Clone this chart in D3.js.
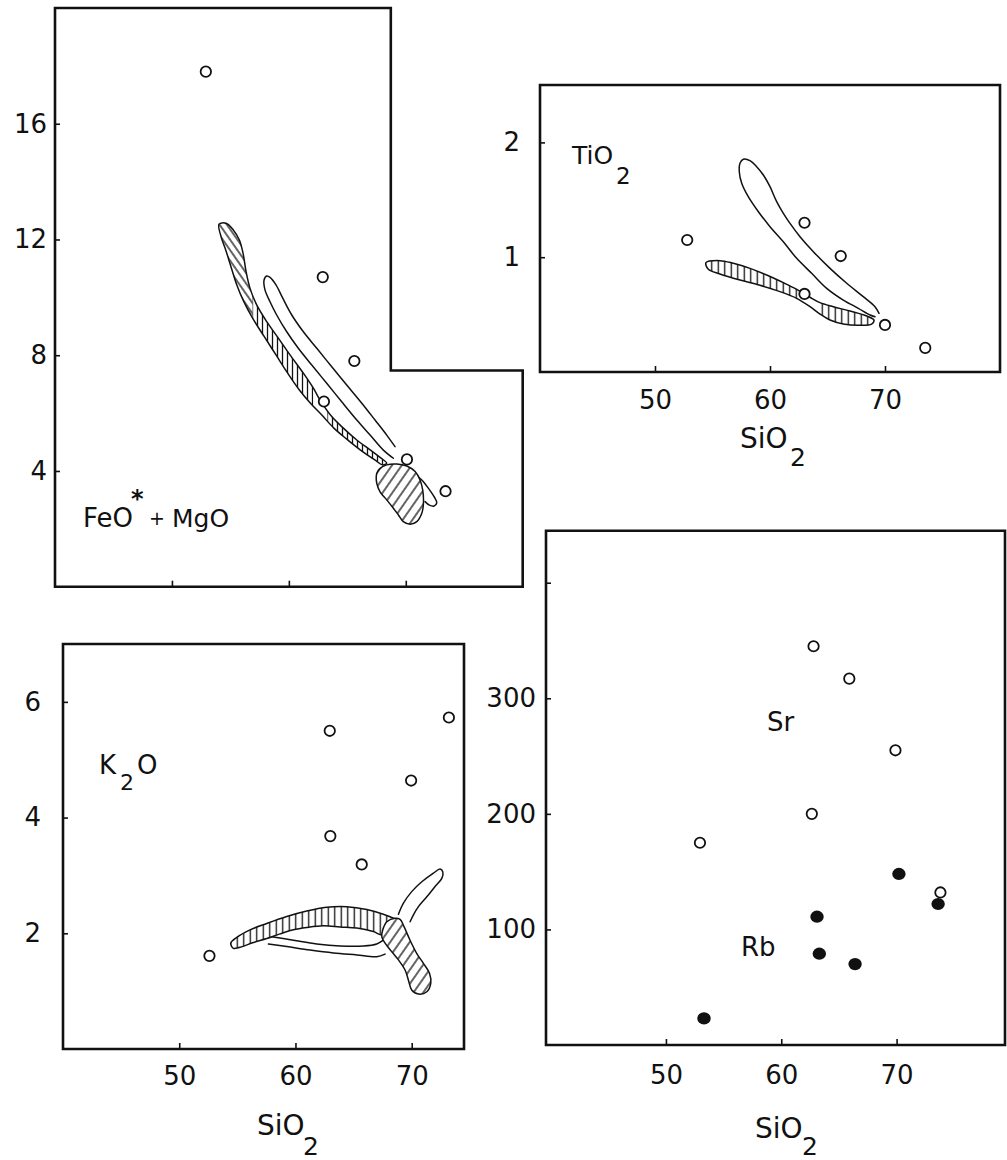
<!DOCTYPE html>
<html><head><meta charset="utf-8">
<script src="https://cdn.jsdelivr.net/npm/d3@7"></script>
<style>
body{margin:0;background:#fff}
svg{display:block;background:#fff}
text{font-family:"DejaVu Sans",sans-serif;fill:#111}
</style>
</head><body><svg id="c" width="1007" height="1160"></svg>
<script>
// ================= DATA =================
const sio2Ticks = [50, 60, 70];

// Panel A: FeO* + MgO vs SiO2
const feoSiO2 = [52.9, 62.9, 65.6, 63.0, 70.1, 73.4];
const feoMgO  = [17.8, 10.7, 7.8, 6.4, 4.4, 3.3];
const feoYTicks = [4, 8, 12, 16];
const feoBandOuter = [[54.03,12.53],[54.2,12.10],[54.6,11.64],[55.05,11.06],[55.55,10.43],[56.15,9.85],[56.9,9.28],[57.9,8.64],[58.9,8.01],[59.9,7.38],[60.9,6.80],[61.85,6.34],[62.8,5.94],[63.85,5.48],[64.95,5.10],[66.1,4.73],[67.35,4.38],[68.03,4.21]];
const feoBandInner = [[68.37,4.27],[67.80,4.47],[66.95,4.73],[65.81,5.07],[64.66,5.48],[63.67,5.88],[62.67,6.45],[62.10,6.86],[61.24,7.38],[60.10,8.01],[59.10,8.59],[58.11,9.16],[57.25,9.74],[56.68,10.31],[56.34,10.89],[56.11,11.47],[55.77,11.98],[55.25,12.33],[54.63,12.56]];
const feoLoopLeft  = [[68.94,4.44],[68.06,4.73],[66.95,5.24],[65.81,5.76],[64.52,6.39],[63.24,7.03],[61.96,7.66],[60.81,8.24],[59.82,8.81],[58.96,9.39],[58.39,9.85],[57.96,10.26],[57.88,10.60]];
const feoLoopTip   = [[58.11,10.74]];
const feoLoopRight = [[58.39,10.69],[58.90,10.43],[59.48,9.97],[60.25,9.39],[61.24,8.81],[62.39,8.24],[63.67,7.60],[64.95,6.97],[66.24,6.34],[67.37,5.76],[68.37,5.24],[69.08,4.84]];
const feoTail = [[70.94,3.83],[71.37,3.69],[71.94,3.40],[72.42,3.11],[72.65,2.90],[72.42,2.79],[72.02,2.82],[71.65,2.94]];
const feoBlob = [[67.52,3.92],[67.80,4.09],[68.37,4.21],[69.23,4.24],[70.09,4.17],[70.80,3.98],[71.22,3.69],[71.45,3.34],[71.51,2.88],[71.37,2.54],[70.94,2.25],[70.37,2.16],[69.79,2.25],[69.37,2.48],[68.94,2.71],[68.37,3.00],[67.80,3.28],[67.52,3.57]];

// Panel B: TiO2 vs SiO2
const tiSiO2 = [52.8, 63.0, 66.15, 63.0, 70.0, 73.5];
const tiO2   = [1.15, 1.30, 1.01, 0.68, 0.41, 0.21];
const tiYTicks = [1, 2];
const tiLoopLeft  = [[69.13,0.482],[68.70,0.497],[67.68,0.555],[66.37,0.627],[64.93,0.729],[63.62,0.860],[62.32,0.990],[61.16,1.135],[60.0,1.266],[58.99,1.396],[58.11,1.527],[57.54,1.644],[57.33,1.745],[57.39,1.818]];
const tiLoopTip   = [[57.68,1.853]];
const tiLoopRight = [[58.26,1.841],[58.84,1.788],[59.42,1.716],[60.0,1.614],[60.58,1.484],[61.16,1.382],[61.74,1.295],[62.61,1.179],[63.77,1.048],[65.22,0.903],[66.67,0.773],[68.11,0.656],[69.13,0.569],[69.48,0.511]];
const tiBandUpper = [[54.43,0.952],[55.65,0.970],[56.81,0.947],[58.26,0.903],[59.71,0.845],[61.16,0.778],[62.32,0.720],[63.48,0.651],[64.35,0.604],[65.51,0.569],[66.96,0.531],[68.41,0.488],[69.04,0.453]];
const tiBandLower = [[68.84,0.418],[67.83,0.407],[66.37,0.418],[65.22,0.453],[64.35,0.505],[63.48,0.569],[62.32,0.642],[60.87,0.700],[59.13,0.755],[57.39,0.801],[55.65,0.854],[54.64,0.895]];

// Panel C: K2O vs SiO2
const kSiO2 = [52.6, 62.95, 63.0, 65.7, 69.95, 73.2];
const k2O   = [1.61, 5.50, 3.68, 3.19, 4.64, 5.73];
const kYTicks = [2, 4, 6];
const kArcUpper = [[54.43,1.83],[54.95,1.93],[56.09,2.06],[57.53,2.17],[59.25,2.29],[60.97,2.385],[62.69,2.45],[64.41,2.46],[66.14,2.41],[67.56,2.33],[68.43,2.26],[68.86,2.20]];
const kArcLower = [[67.51,1.97],[66.70,2.03],[65.28,2.09],[63.84,2.11],[62.40,2.13],[60.97,2.10],[59.82,2.06],[58.67,1.99],[57.53,1.91],[56.38,1.84],[55.23,1.76],[54.66,1.74]];
const kDiag = [[67.51,2.06],[67.86,2.20],[68.57,2.26],[69.0,2.24],[69.35,2.11],[69.86,1.88],[70.44,1.65],[71.01,1.48],[71.53,1.31],[71.64,1.135],[71.30,0.99],[70.58,0.95],[70.0,1.02],[69.72,1.19],[69.43,1.365],[68.86,1.54],[68.29,1.68],[67.71,1.83],[67.43,1.94]];
const kArm = [[68.86,2.33],[69.29,2.52],[70.0,2.72],[70.87,2.89],[71.87,3.04],[72.44,3.11],[72.68,3.06],[72.59,2.95],[72.01,2.81],[71.30,2.63],[70.58,2.46],[70.15,2.32],[69.86,2.20]];
const kLensUpper = [[57.96,1.94],[59.82,1.88],[61.83,1.815],[63.84,1.78],[65.85,1.78],[66.99,1.815],[67.56,1.88]];
const kLensLower = [[57.67,1.815],[59.25,1.77],[61.26,1.71],[63.26,1.66],[65.28,1.625],[66.99,1.595],[67.71,1.64]];

// Panel D: Sr and Rb vs SiO2
const srSiO2 = [62.8, 65.9, 69.9, 62.65, 52.95, 73.8];
const srVal  = [345, 317, 255, 200, 175, 132];
const rbSiO2 = [70.2, 63.1, 63.3, 66.4, 53.3, 73.6];
const rbVal  = [148, 111, 79, 70, 23, 122];
const srYTicks = [100, 200, 300, 400];
const srYLabels = [100, 200, 300];

// ================= DRAWING =================
const svg = d3.select('#c');
svg.append('rect').attr('width',1007).attr('height',1160).attr('fill','#fff');
const defs = svg.append('defs');
const INK = '#111';

function hatchPattern(id, spacing, angle, sw){
  const p = defs.append('pattern').attr('id', id).attr('patternUnits','userSpaceOnUse')
    .attr('width', spacing).attr('height', spacing).attr('patternTransform', `rotate(${angle})`);
  p.append('line').attr('x1', spacing/2).attr('x2', spacing/2).attr('y1', -1).attr('y2', spacing+1)
    .attr('stroke', INK).attr('stroke-width', sw);
}
hatchPattern('hv', 5, 0, 1.3);
hatchPattern('hv6', 6.5, 0, 1.3);
hatchPattern('hback', 6, -35, 1.3);
hatchPattern('hfwd', 8, 35, 1.3);

let clipN = 0;
function makePanel(c){
  const x = d3.scaleLinear().domain(c.xDomain).range(c.xRange);
  const y = d3.scaleLinear().domain(c.yDomain).range(c.yRange);
  const g = svg.append('g');
  const lineOpen = d3.line().x(d=>x(d[0])).y(d=>y(d[1])).curve(d3.curveCatmullRom.alpha(0.5));
  const lineClosed = d3.line().x(d=>x(d[0])).y(d=>y(d[1])).curve(d3.curveCatmullRomClosed.alpha(0.5));

  const ax = g.append('g').attr('transform', `translate(0,${c.yRange[0]})`)
    .call(d3.axisBottom(x).tickValues(sio2Ticks).tickSize(-6).tickSizeOuter(0)
      .tickPadding(c.xPad).tickFormat(c.xLabels ? d3.format('d') : ''));
  const ay = g.append('g').attr('transform', `translate(${c.xRange[0]},0)`)
    .call(d3.axisLeft(y).tickValues(c.yTicks).tickSize(-5).tickSizeOuter(0)
      .tickPadding(c.yPad).tickFormat(d => (c.yLabels.includes(d) ? d : '')));
  [ax, ay].forEach(a => {
    a.select('.domain').remove();
    a.attr('font-family', '"DejaVu Sans", sans-serif').attr('font-size', c.tickFont);
    a.selectAll('line').attr('stroke', INK).attr('stroke-width', 1.6);
    a.selectAll('text').attr('fill', INK);
  });

  const [x0, x1] = c.xRange, [y0, y1] = c.yRange;
  let framePath;
  if (c.notch) {
    const nx = x(c.notch[0]), ny = y(c.notch[1]);
    framePath = `M${x0},${y1}H${nx}V${ny}H${x1}V${y0}H${x0}Z`;
  } else {
    framePath = `M${x0},${y1}H${x1}V${y0}H${x0}Z`;
  }
  g.append('path').attr('d', framePath).attr('fill','none').attr('stroke', INK)
    .attr('stroke-width', 2.6).attr('stroke-linejoin','miter');

  function openLine(pts, sw){
    g.append('path').attr('d', lineOpen(pts)).attr('fill','none').attr('stroke',INK)
      .attr('stroke-width', sw||1.5).attr('stroke-linecap','round');
  }
  function hatched(pts, fills){
    const id = 'clip' + (clipN++);
    defs.append('clipPath').attr('id', id).append('path').attr('d', lineClosed(pts));
    g.append('path').attr('d', lineClosed(pts)).attr('fill','#fff');
    fills.forEach(f => {
      g.append('rect').attr('x', x(f.from)).attr('width', x(f.to) - x(f.from))
        .attr('y', y(c.yDomain[1])).attr('height', y(c.yDomain[0]) - y(c.yDomain[1]))
        .attr('fill', `url(#${f.pat})`).attr('clip-path', `url(#${id})`);
    });
    g.append('path').attr('d', lineClosed(pts)).attr('fill','none').attr('stroke',INK).attr('stroke-width',1.5);
  }
  function openCircles(xs, ys, r){
    g.selectAll(null).data(xs.map((v,i)=>[v, ys[i]])).enter().append('circle')
      .attr('cx', d=>x(d[0])).attr('cy', d=>y(d[1])).attr('r', r||5)
      .attr('fill','#fff').attr('stroke',INK).attr('stroke-width',1.8);
  }
  function filledCircles(xs, ys, r){
    g.selectAll(null).data(xs.map((v,i)=>[v, ys[i]])).enter().append('ellipse')
      .attr('cx', d=>x(d[0])).attr('cy', d=>y(d[1])).attr('rx', r+0.6).attr('ry', r)
      .attr('fill',INK);
  }
  function text(px, py, str, size){
    g.append('text').attr('x', px).attr('y', py).attr('font-size', size).text(str);
  }
  return {x, y, g, openLine, hatched, openCircles, filledCircles, text};
}

// ---- Panel A ----
const A = makePanel({xDomain:[40,80], xRange:[55,522.7], yDomain:[0,20], yRange:[586.7,8],
  notch:[68.72, 7.47], yTicks:feoYTicks, yLabels:feoYTicks, xLabels:false,
  xPad:18, yPad:8, tickFont:26});
A.hatched(feoBandOuter.concat(feoBandInner), [
  {from:53.5, to:56.9, pat:'hback'}, {from:56.9, to:62.1, pat:'hv'}, {from:63.3, to:68.6, pat:'hv'}]);
A.openLine(feoLoopLeft.concat(feoLoopTip, feoLoopRight));
A.openLine(feoTail);
A.hatched(feoBlob, [{from:67, to:72, pat:'hfwd'}]);
A.openCircles(feoSiO2, feoMgO, 5.2);
A.text(83, 527, 'FeO', 26);
A.g.append('text').attr('x', 131).attr('y', 507).attr('font-size', 24).attr('font-weight','bold').text('*');
A.text(149, 525, '+', 19);
A.text(172, 527, 'MgO', 25);

// ---- Panel B ----
const B = makePanel({xDomain:[40,80], xRange:[540,1000], yDomain:[0,2.5], yRange:[372,85],
  yTicks:tiYTicks, yLabels:tiYTicks, xLabels:true, xPad:19, yPad:20, tickFont:26});
B.openLine(tiLoopLeft.concat(tiLoopTip, tiLoopRight));
B.hatched(tiBandUpper.concat(tiBandLower), [{from:54, to:62.5, pat:'hv6'}, {from:64.2, to:69.2, pat:'hv6'}]);
B.openCircles(tiSiO2, tiO2, 5.2);
B.text(572, 164, 'TiO', 25);
B.text(616, 184, '2', 23);
B.text(740, 448, 'SiO', 28);
B.text(790, 466, '2', 25);

// ---- Panel C ----
const C = makePanel({xDomain:[40,74.5], xRange:[63,464], yDomain:[0,7], yRange:[1049,644],
  yTicks:kYTicks, yLabels:kYTicks, xLabels:true, xPad:18, yPad:22, tickFont:26});
C.openLine(kLensUpper);
C.openLine(kLensLower);
C.openLine(kArm);
C.hatched(kArcUpper.concat(kArcLower), [{from:54, to:68, pat:'hv6'}]);
C.hatched(kDiag, [{from:67, to:72, pat:'hfwd'}]);
C.openCircles(kSiO2, k2O, 5.2);
C.text(99, 774, 'K', 26);
C.text(120, 790, '2', 22);
C.text(137, 774, 'O', 26);
C.text(257, 1135, 'SiO', 28);
C.text(303, 1155, '2', 25);

// ---- Panel D ----
const D = makePanel({xDomain:[39.6,79.4], xRange:[546,1005], yDomain:[0,445], yRange:[1045,530.7],
  yTicks:srYTicks, yLabels:srYLabels, xLabels:true, xPad:21, yPad:10, tickFont:26});
D.openCircles(srSiO2, srVal, 5.2);
D.filledCircles(rbSiO2, rbVal, 6.1);
D.text(767, 731, 'Sr', 26);
D.text(741, 956, 'Rb', 26);
D.text(755, 1138, 'SiO', 28);
D.text(802, 1155, '2', 25);
</script>
</body></html>
